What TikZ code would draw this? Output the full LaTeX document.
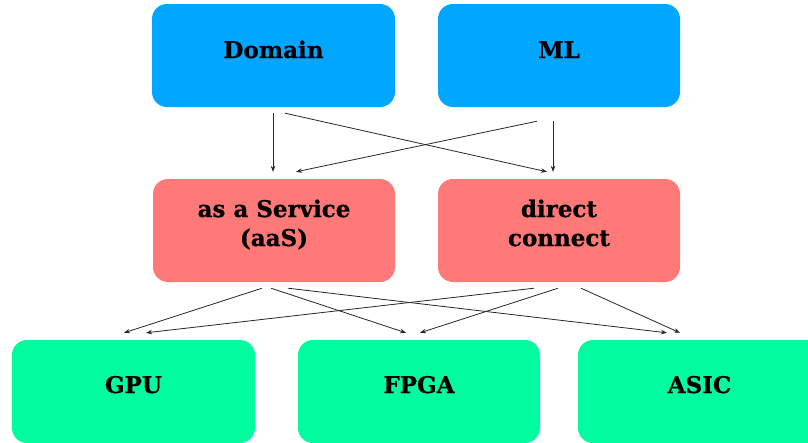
\documentclass[tikz,border=0pt]{standalone}
\usepackage{fontspec}
\setmainfont{DejaVu Serif}
\newfontfamily\heavy{DejaVu Serif Bold}[FakeBold=0.8]
\usetikzlibrary{calc,arrows.meta}
\definecolor{cblue}{RGB}{0,166,255}
\definecolor{cred}{RGB}{255,121,121}
\definecolor{cgreen}{RGB}{0,252,158}
\tikzset{
  box/.style={rectangle, rounded corners=15pt, draw=none, inner sep=0pt,
    minimum width=242pt, minimum height=103pt},
  lbl/.style={anchor=base, inner sep=0pt, font=\fontsize{23}{28}\selectfont\heavy},
  arr/.style={-{Stealth[length=6pt,width=4.5pt]}, line width=0.8pt, draw=black!85}
}
\begin{document}
\begin{tikzpicture}[x=1pt,y=-1pt]
\useasboundingbox (0,0) rectangle (808,442);
\clip (0,0) rectangle (808,442);
% top row
\node[box, fill=cblue, minimum width=243pt] (dom) at (273.5,55.5) {};
\node[box, fill=cblue] (ml) at (559,55.5) {};
\node[lbl] (tdom) at (273.5,58) {Domain};
\node[lbl] (tml) at (559,58) {ML};
% middle row
\node[box, fill=cred] (aas) at (274,230.5) {};
\node[box, fill=cred] (dir) at (559,230.5) {};
\node[lbl] (taas1) at (274,217) {as a Service};
\node[lbl] (taas2) at (274,246) {(aaS)};
\node[lbl] (tdir1) at (559,217) {direct};
\node[lbl] (tdir2) at (559,246) {connect};
% bottom row
\node[box, fill=cgreen, minimum width=243pt] (gpu) at (133.5,391.5) {};
\node[box, fill=cgreen] (fpga) at (419,391.5) {};
\node[box, fill=cgreen, minimum width=243pt] (asic) at (699.5,391.5) {};
\node[lbl] (tgpu) at (133.5,393) {GPU};
\node[lbl] (tfpga) at (419,393) {FPGA};
\node[lbl] (tasic) at (699.5,393) {ASIC};
% arrows top -> middle
\draw[arr] ($(dom.south)+(-0.5,6)$) -- ($(aas.north)+(-1,-7)$);
\draw[arr] ($(dom.south)+(11.5,6)$) -- ($(dir.north)+(-12,-7)$);
\draw[arr] ($(ml.south)+(-22,14)$) -- ($(aas.north)+(22,-7)$);
\draw[arr] ($(ml.south)+(-6,14)$) -- ($(dir.north)+(-6,-7)$);
% arrows middle -> bottom
\draw[arr] ($(aas.south)+(-12,6)$) -- ($(gpu.north)+(-9.5,-7)$);
\draw[arr] ($(aas.south)+(-3,6)$) -- ($(fpga.north)+(-13,-7)$);
\draw[arr] ($(aas.south)+(14,6)$) -- ($(asic.north)+(-32.5,-7)$);
\draw[arr] ($(dir.south)+(-25,6)$) -- ($(gpu.north)+(12.5,-7)$);
\draw[arr] ($(dir.south)+(-1,6)$) -- ($(fpga.north)+(1,-7)$);
\draw[arr] ($(dir.south)+(22,6)$) -- ($(asic.north)+(-19.5,-7)$);
\end{tikzpicture}
\end{document}
